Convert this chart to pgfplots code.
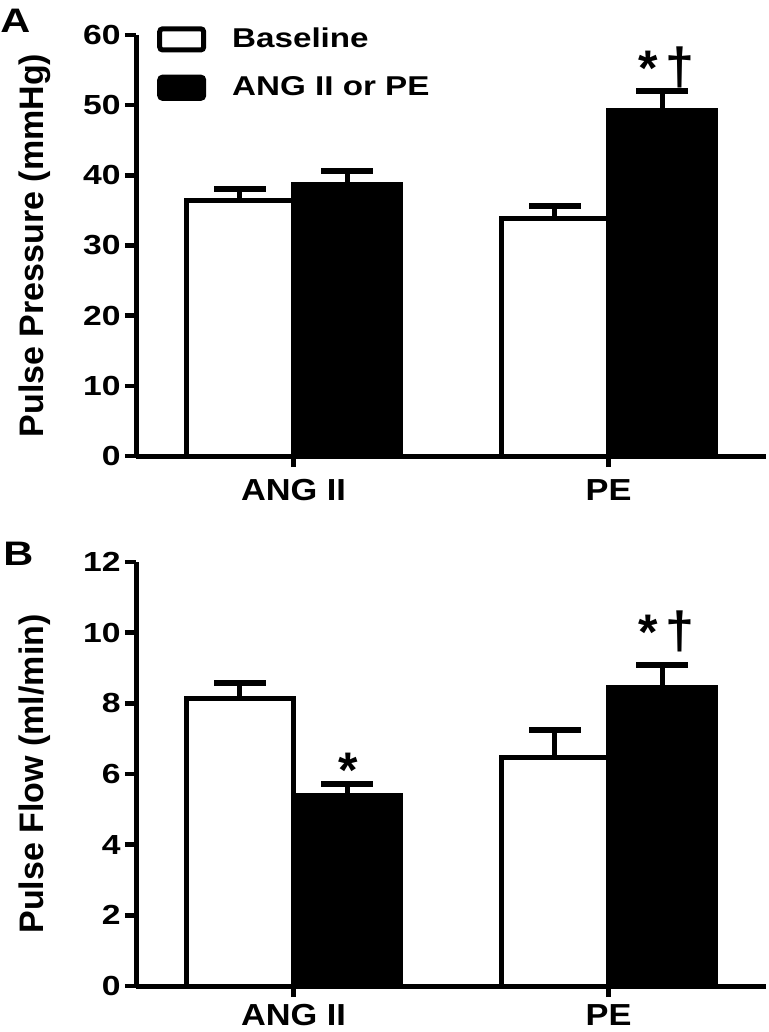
\documentclass[border=0pt]{standalone}
\usepackage{pgfplots}
\pgfplotsset{compat=1.18}
\usepackage{fontspec}
\setmainfont{Liberation Sans}
\newfontfamily\wfont{Liberation Sans}[FakeStretch=1.22]
\newfontfamily\xfont{Liberation Sans}[FakeStretch=1.13]
\newfontfamily\yfont{Liberation Sans}

\pgfplotsset{
  panel/.style={
    scale only axis, width=315pt,
    xmin=-0.5, xmax=1.5,
    axis lines=left,
    axis line style={-, line width=2.5pt},
    ybar, bar width=0.34,
    xtick={0,1}, xticklabels={ANG II, PE},
    tick align=outside,
    major tick length=5.5pt,
    tick style={line width=2.2pt, black},
    xticklabel style={font=\xfont\bfseries\fontsize{15.2}{15.2}\selectfont, inner sep=0pt, yshift=-6pt},
    yticklabel style={font=\wfont\bfseries\fontsize{13.8}{13.8}\selectfont, inner sep=0pt, xshift=-2pt},
    /pgf/number format/assume math mode=true,
    ylabel style={font=\yfont\bfseries\fontsize{17}{17}\selectfont, at={(axis description cs:-0.161,0.5)}, anchor=center},
    error bars/y dir=plus, error bars/y explicit,
    error bars/error bar style={line width=2.5pt, black},
    error bars/error mark options={rotate=90, line width=3pt, mark size=12.8pt, black},
    clip=false,
  },
  basebar/.style={bar shift=0pt, fill=white, draw=black, line width=2.5pt,
    legend image code/.code={\draw[fill=white, draw=black, line width=2.5pt, rounded corners=1.5pt] (0pt,-5.3pt) rectangle (22pt,5.3pt);}},
  trtbar/.style={bar shift=0pt, fill=black, draw=black, line width=2.5pt,
    legend image code/.code={\draw[fill=black, draw=black, line width=2.5pt, rounded corners=1.5pt] (0pt,-5.3pt) rectangle (22pt,5.3pt);}},
}
\tikzset{
  sigstar/.style={anchor=north, inner sep=0pt, font=\yfont\bfseries\fontsize{25}{25}\selectfont},
  sigdag/.style={anchor=north, inner sep=0pt, font=\yfont\bfseries\fontsize{26}{26}\selectfont},
}

\begin{document}
\begin{tikzpicture}
\useasboundingbox (0pt,0pt) rectangle (384pt,-516pt);

% Panel A
\begin{axis}[panel,
  at={(68pt,-228pt)}, anchor=south west,
  height=210.5pt,
  ymin=0, ymax=60, ytick={0,10,...,60},
  ylabel={Pulse Pressure (mmHg)},
  legend style={at={(axis description cs:0.033,1.027)}, anchor=north west,
    draw=none, fill=none, inner sep=0pt, row sep=9pt,
    font=\wfont\bfseries\fontsize{13.6}{13.6}\selectfont,
    cells={anchor=west},
    /tikz/every odd column/.append style={column sep=11pt}},
  legend cell align=left,
]
\addplot+[basebar] coordinates {(-0.17,36.4) +- (0,1.6) (0.83,33.9) +- (0,1.8)};
\addlegendentry{Baseline}
\addplot+[trtbar] coordinates {(0.17,38.7) +- (0,1.9) (1.17,49.3) +- (0,2.7)};
\addlegendentry{ANG II or PE}
\node[sigstar] at (axis cs:1.125,57.7) {*};
\node[sigdag] at (axis cs:1.227,58.4) {†};
\end{axis}

% Panel B
\begin{axis}[panel,
  at={(68pt,-493pt)}, anchor=south west,
  height=212pt,
  ymin=0, ymax=12, ytick={0,2,...,12},
  ylabel={Pulse Flow (ml/min)},
  xticklabel style={yshift=2.5pt},
]
\addplot+[basebar] coordinates {(-0.17,8.13) +- (0,0.45) (0.83,6.46) +- (0,0.79)};
\addplot+[trtbar] coordinates {(0.17,5.38) +- (0,0.34) (1.17,8.44) +- (0,0.65)};
\node[sigstar] at (axis cs:0.173,6.6) {*};
\node[sigstar] at (axis cs:1.125,10.5) {*};
\node[sigdag] at (axis cs:1.227,10.64) {†};
\end{axis}

\node[anchor=north west, inner sep=0pt, font=\wfont\bfseries\fontsize{17}{17}\selectfont] at (0pt,-4.5pt) {A};
\node[anchor=north west, inner sep=0pt, font=\wfont\bfseries\fontsize{17}{17}\selectfont] at (1.5pt,-271pt) {B};
\end{tikzpicture}
\end{document}
